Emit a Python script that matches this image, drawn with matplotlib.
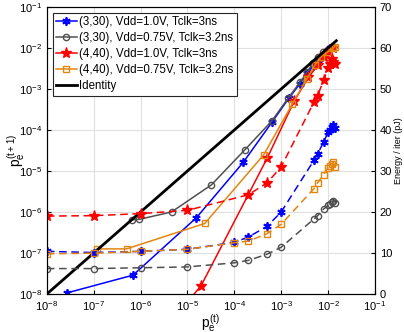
import numpy as np
import matplotlib
matplotlib.use("Agg")
import matplotlib.pyplot as plt
from matplotlib.ticker import LogLocator, NullLocator

plt.rcParams['font.family'] = ['Liberation Sans', 'DejaVu Sans']
plt.rcParams['mathtext.fontset'] = 'custom'
plt.rcParams['mathtext.rm'] = 'Liberation Sans'
plt.rcParams['mathtext.it'] = 'Liberation Sans'

# p_e^(t) -> p_e^(t+1) trajectories (log10 values)
gray_x = [-1.93, -2.00, -2.10, -2.21, -2.32, -2.44, -2.60, -2.85, -3.20, -3.78, -4.49, -5.34, -6.03, -6.19]
gray_y = [-1.98, -2.04, -2.11, -2.22, -2.36, -2.58, -2.84, -3.22, -3.78, -4.49, -5.34, -6.00, -6.18, -6.19]
blue_x = [-1.95, -2.00, -2.05, -2.12, -2.21, -2.32, -2.44, -2.60, -2.84, -3.19, -3.81, -4.81, -6.16, -7.56]
blue_y = [-1.99, -2.05, -2.12, -2.21, -2.32, -2.44, -2.62, -2.87, -3.23, -3.80, -4.79, -6.14, -7.54, -7.97]
red_x = [-1.90, -1.97, -2.08, -2.22, -2.42, -2.72, -3.30, -4.71, -7.80]
red_y = [-1.99, -2.08, -2.22, -2.42, -2.72, -3.29, -4.69, -7.80, -12.0]
orange_x = [-1.86, -1.89, -2.00, -2.14, -2.28, -2.45, -2.76, -3.37, -4.63, -6.30, -6.92]
orange_y = [-1.97, -2.01, -2.09, -2.21, -2.42, -2.75, -3.36, -4.60, -6.28, -6.90, -6.90]
identity = [1e-8, 1.5e-2]

# energy per iteration (pJ) vs p_e^(t)
sweep = [1e-8, 1e-7, 1e-6, 1e-5, 1e-4, 2e-4, 5e-4, 1e-3, 5e-3, 6e-3, 8e-3, 1e-2, 1.1e-2, 1.2e-2, 1.3e-2, 1.4e-2]
gray_e = [6.2, 6.2, 6.4, 6.6, 7.6, 8.2, 9.7, 11.4, 18.3, 19.1, 20.7, 21.6, 22.0, 22.5, 22.8, 22.3]
blue_e = [10.4, 10.1, 10.4, 10.9, 12.6, 13.9, 16.5, 20.0, 32.6, 34.2, 37.0, 39.4, 40.0, 40.7, 41.1, 40.4]
orange_e = [9.8, 9.95, 10.4, 10.9, 12.5, 12.9, 14.7, 17.0, 25.7, 27.1, 29.1, 30.8, 31.2, 31.7, 32.1, 31.0]
red_sweep = [1e-8, 1e-7, 1e-6, 1e-5, 2e-4, 5e-4, 1e-3, 5e-3, 6e-3, 8e-3, 1e-2, 1.1e-2, 1.2e-2, 1.3e-2, 1.4e-2]
red_e = [19.0, 19.1, 19.6, 20.4, 24.2, 27.1, 31.0, 46.8, 48.4, 52.1, 55.0, 56.1, 57.4, 56.6, 56.0]

labels = ["(3,30), Vdd=1.0V, Tclk=3ns", "(3,30), Vdd=0.75V, Tclk=3.2ns",
          "(4,40), Vdd=1.0V, Tclk=3ns", "(4,40), Vdd=0.75V, Tclk=3.2ns", "Identity"]

c_blue, c_gray, c_red, c_orange = '#0000ff', '#505050', '#ff0000', '#e3860f'
ast = (6, 2, 0)
dash = (0, (5, 3))

fig = plt.figure(figsize=(4.04, 3.32), dpi=100)
ax = fig.add_axes([0.116, 0.1145, 0.812, 0.8645])

p = lambda v: 10.0 ** np.array(v)
ax.plot(p(blue_x), p(blue_y), color=c_blue, lw=1.1, marker=ast, ms=6, mew=1.3, label=labels[0])
ax.plot(p(gray_x), p(gray_y), color=c_gray, lw=1.1, marker='o', ms=4.5, mfc='none', mew=1.0, label=labels[1])
ax.plot(p(red_x), p(red_y), color=c_red, lw=1.1, marker='*', ms=8, label=labels[2])
ax.plot(p(orange_x), p(orange_y), color=c_orange, lw=1.1, marker='s', ms=4.5, mfc='none', mew=1.0, label=labels[3])
ax.plot(identity, identity, color='black', lw=2, label=labels[4])

ax.set_xscale('log')
ax.set_yscale('log')
ax.set_xlim(1e-8, 1e-1)
ax.set_ylim(1e-8, 1e-1)
for a in (ax.xaxis, ax.yaxis):
    a.set_major_locator(LogLocator(base=10, numticks=10))
    a.set_minor_locator(NullLocator())
ax.grid(True, color='#e0e0e0', lw=0.8)
ax.set_axisbelow(True)
ax.tick_params(direction='in', labelsize=8, length=3, top=False)
ax.set_xlabel(r'$p_e^{(t)}$', fontsize=10)
ax.set_ylabel(r'$p_e^{(t+1)}$', fontsize=10)
ax.xaxis.set_label_coords(0.5, -0.062)
ax.yaxis.set_label_coords(-0.062, 0.5)
for s in ax.spines.values():
    s.set_color('#262626')

ax2 = ax.twinx()
ax2.plot(sweep, blue_e, color=c_blue, lw=1.1, ls=dash, marker=ast, ms=6, mew=1.3)
ax2.plot(sweep, gray_e, color=c_gray, lw=1.1, ls=dash, marker='o', ms=4.5, mfc='none', mew=1.0)
ax2.plot(red_sweep, red_e, color=c_red, lw=1.1, ls=dash, marker='*', ms=8)
ax2.plot(sweep, orange_e, color=c_orange, lw=1.1, ls=dash, marker='s', ms=4.5, mfc='none', mew=1.0)
ax2.set_ylim(0, 70)
ax2.set_yticks(range(0, 71, 10))
ax2.tick_params(direction='in', labelsize=8, length=3)
ax2.set_ylabel('Energy / iter (pJ)', fontsize=6.5, labelpad=1)

leg = ax.legend(loc='upper left', fontsize=8.3, fancybox=False, framealpha=1,
                edgecolor='#262626', handlelength=1.8, handletextpad=0.2,
                labelspacing=0.35, borderpad=0.3, borderaxespad=0.5)
leg.get_frame().set_linewidth(0.8)

fig.savefig('out.png', dpi=100)
